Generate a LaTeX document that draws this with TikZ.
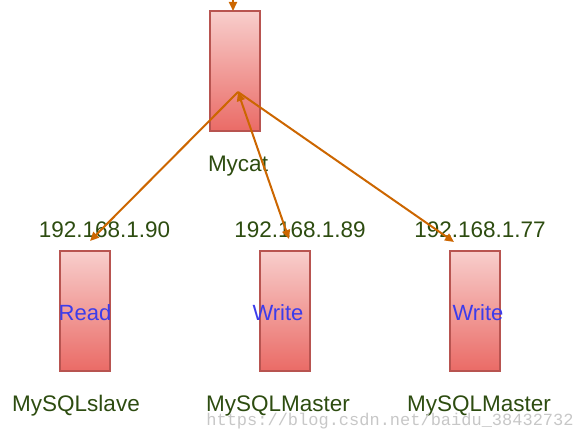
\documentclass[tikz,border=0pt]{standalone}
\usepackage{fontspec}
\setmainfont{Liberation Sans}
\newfontfamily\wmfont{Liberation Mono}
\usetikzlibrary{arrows.meta}
\definecolor{boxtop}{RGB}{248,206,204}
\definecolor{boxbot}{RGB}{234,107,102}
\definecolor{boxline}{RGB}{184,84,80}
\definecolor{arrowc}{RGB}{204,102,0}
\definecolor{lblgreen}{RGB}{45,76,16}
\definecolor{inblue}{RGB}{60,60,235}
\begin{document}
\begin{tikzpicture}[x=1pt,y=-1pt,
  dbbox/.style={draw=boxline,line width=2pt,top color=boxtop,bottom color=boxbot,
    minimum width=50pt,minimum height=120pt,inner sep=0pt},
  lbl/.style={text=lblgreen,font=\fontsize{22.5}{26}\selectfont,inner sep=0pt,anchor=base},
  inlbl/.style={text=inblue,font=\fontsize{22}{26}\selectfont,inner sep=0pt,anchor=base},
  link/.style={draw=arrowc,line width=2pt,-{Triangle[length=9pt,width=8pt]}},
  wm/.style={text=black!22,font=\wmfont\fontsize{17}{20}\selectfont,inner sep=0pt,anchor=base}]
\useasboundingbox (0,0) rectangle (577,438);
% boxes
\node[dbbox] (mycat) at (235,71) {};
\node[dbbox] (db1) at (85,311) {};
\node[dbbox] (db2) at (285,311) {};
\node[dbbox] (db3) at (475,311) {};
% labels
\node[lbl] (lmycat) at (238,172) {Mycat};
\node[lbl] (ip1) at (104.5,237) {192.168.1.90};
\node[lbl] (ip2) at (300,237) {192.168.1.89};
\node[lbl] (ip3) at (480,237) {192.168.1.77};
\node[inlbl] (t1) at (85,320) {Read};
\node[inlbl] (t2) at (278,320) {Write};
\node[inlbl] (t3) at (478,320) {Write};
\node[lbl] (n1) at (76,411) {MySQLslave};
\node[lbl] (n2) at (278,411) {MySQLMaster};
\node[lbl] (n3) at (479,411) {MySQLMaster};
\node[wm] (wmark) at (390,425) {https://blog.csdn.net/baidu\_38432732};
% connectors
\coordinate (hub) at (238,92);
\coordinate (e1) at (90,241);
\coordinate (e2) at (289,239);
\coordinate (e3) at (454,242);
\coordinate (topin) at (233,-4);
\coordinate (topend) at (233,11);
\draw[link] (hub) -- (e1);
\draw[link,{Triangle[length=9pt,width=8pt]}-{Triangle[length=9pt,width=8pt]}] (hub) -- (e2);
\draw[link] (hub) -- (e3);
\draw[link] (topin) -- (topend);
\end{tikzpicture}
\end{document}
